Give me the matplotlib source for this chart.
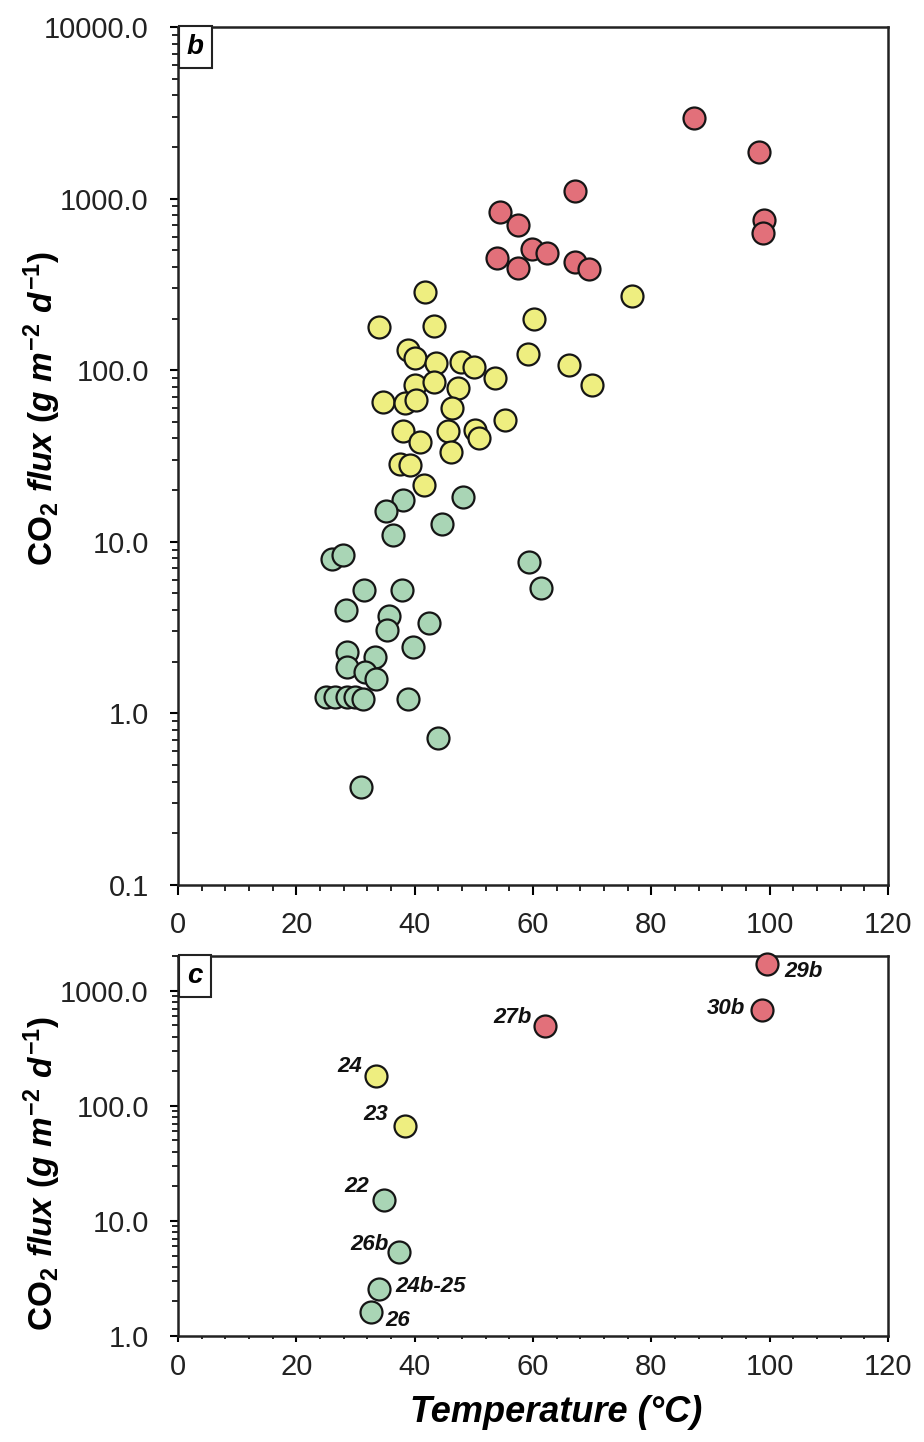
import numpy as np
import matplotlib
matplotlib.use('Agg')
import matplotlib.pyplot as plt
from matplotlib.ticker import FixedLocator, FixedFormatter, MultipleLocator, LogLocator, NullFormatter

plt.rcParams['font.family'] = ['Liberation Sans', 'DejaVu Sans']
plt.rcParams['mathtext.fontset'] = 'custom'
plt.rcParams['mathtext.rm'] = 'Liberation Sans:bold'
plt.rcParams['mathtext.bf'] = 'Liberation Sans:bold'
plt.rcParams['mathtext.it'] = 'Liberation Sans:italic:bold'

# panel b : temperature (C) / CO2 flux (g m-2 d-1)
green_t = [48.2, 38.1, 35.2, 44.7, 36.3, 26.1, 27.9, 59.3, 61.3, 31.4, 37.9, 28.4, 35.7, 35.3, 42.5,
           39.8, 28.5, 33.3, 28.5, 31.6, 33.5, 25.1, 26.6, 28.5, 29.9, 31.3, 38.8, 43.9, 31.0]
green_f = [18.2, 17.4, 15.2, 12.7, 11.0, 7.9, 8.4, 7.6, 5.4, 5.2, 5.2, 4.0, 3.7, 3.06, 3.38,
           2.43, 2.29, 2.14, 1.87, 1.75, 1.58, 1.25, 1.25, 1.25, 1.25, 1.22, 1.22, 0.72, 0.374]

yellow_t = [41.7, 33.9, 43.2, 38.8, 40.1, 43.6, 47.8, 50.1, 53.5, 40.1, 43.2, 47.3, 34.7, 38.4, 40.3, 46.4,
            55.3, 38.1, 45.7, 50.2, 50.8, 40.9, 46.1, 37.5, 39.2, 41.5, 76.7, 60.1, 59.2, 66.1, 69.9]
yellow_f = [287, 178, 181, 131, 117, 110, 112, 105, 90, 82, 85, 79, 65, 64, 67, 60,
            51, 44, 44, 45, 40, 38, 33.5, 28.3, 28, 21.4, 271, 198, 124, 107, 82]

red_t = [87.3, 98.2, 67.1, 54.5, 57.4, 99.0, 98.9, 54.0, 57.5, 59.8, 62.3, 67.1, 69.5]
red_f = [2960, 1860, 1100, 830, 700, 750, 630, 453, 393, 508, 484, 428, 387]

# panel c : labelled sites
site = ['22', '23', '24', '24b-25', '26', '26b', '27b', '29b', '30b']
site_t = [34.8, 38.3, 33.5, 33.9, 32.6, 37.4, 62.0, 99.5, 98.75]
site_f = [15.3, 66.5, 180, 2.56, 1.63, 5.35, 493, 1717, 684]
site_grp = ['g', 'y', 'y', 'g', 'g', 'g', 'r', 'r', 'r']

colors = {'g': '#a9d5b5', 'y': '#eeee80', 'r': '#e2707a'}
# label offset in pixels, alignment
lab_pos = {'22': (-15, 13, 'right'), '23': (-16, 12, 'right'), '24': (-14, 10, 'right'),
           '24b-25': (17, 3, 'left'), '26': (14, -9, 'left'), '26b': (-11, 8, 'right'),
           '27b': (-13, 9, 'right'), '29b': (18, -8, 'left'), '30b': (-17, 1, 'right')}

fig = plt.figure(figsize=(9.24, 14.42), dpi=100)
axb = fig.add_axes([0.1926, 0.3863, 0.7684, 0.595])
axc = fig.add_axes([0.1926, 0.0735, 0.7684, 0.2635])

mk = dict(s=250, edgecolors='#151515', linewidths=1.6, zorder=3, clip_on=False)
axb.scatter(green_t, green_f, c=colors['g'], **mk)
axb.scatter(yellow_t, yellow_f, c=colors['y'], **mk)
axb.scatter(red_t, red_f, c=colors['r'], **mk)

for i in range(len(site)):
    axc.scatter(site_t[i], site_f[i], c=colors[site_grp[i]], **mk)
    dx, dy, ha = lab_pos[site[i]]
    axc.annotate(site[i], (site_t[i], site_f[i]), xytext=(dx, dy), textcoords='offset pixels',
                 ha=ha, va='center', fontsize=16, fontweight='bold', style='italic', color='#111')

for ax, lo, hi, lab, xl, xp in [(axb, 0.1, 10000, 'b', 7, 12), (axc, 1, 2000, 'c', 4, 8)]:
    ax.set_yscale('log')
    ax.set_xlim(0, 120)
    ax.set_ylim(lo, hi)
    majors = [v for v in [0.1, 1, 10, 100, 1000, 10000] if lo <= v <= hi]
    ax.yaxis.set_major_locator(FixedLocator(majors))
    ax.yaxis.set_major_formatter(FixedFormatter(['0.1' if v < 1 else '%.1f' % v for v in majors]))
    ax.yaxis.set_minor_locator(LogLocator(base=10, subs=np.arange(2, 10)))
    ax.yaxis.set_minor_formatter(NullFormatter())
    ax.xaxis.set_major_locator(MultipleLocator(20))
    ax.xaxis.set_minor_locator(MultipleLocator(4))
    ax.tick_params(axis='y', which='major', direction='out', length=6, width=1.5, pad=15,
                   labelsize=21, labelcolor='#222')
    ax.tick_params(axis='y', which='minor', direction='out', length=4, width=1.2)
    ax.tick_params(axis='x', which='major', direction='out', length=xl, width=1.5, pad=xp,
                   labelsize=21, labelcolor='#222')
    ax.tick_params(axis='x', which='minor', direction='out', length=xl * 0.6, width=1.2)
    for sp in ax.spines.values():
        sp.set_linewidth(1.8)
        sp.set_color('#222')
    ax.annotate(lab, (0, 1), xycoords='axes fraction', xytext=(9, -7), textcoords='offset pixels',
                ha='left', va='top', fontsize=20, fontweight='bold', style='italic',
                bbox=dict(boxstyle='square,pad=0.3', fc='white', ec='#222', lw=1.5), zorder=5)

ylab = r'$\mathrm{CO_2}\ \mathit{flux\ (g\ m^{-2}\ d^{-1})}$'
fig.text(0.046, 1 - 409 / 1442, ylab, rotation=90, ha='center', va='center', fontsize=24)
fig.text(0.046, 1 - 1174 / 1442, ylab, rotation=90, ha='center', va='center', fontsize=24)
fig.text(0.602, 1 - 1413 / 1442, 'Temperature (°C)', ha='center', va='center', fontsize=26,
         fontweight='bold', style='italic')

plt.savefig('out.png', dpi=100)
